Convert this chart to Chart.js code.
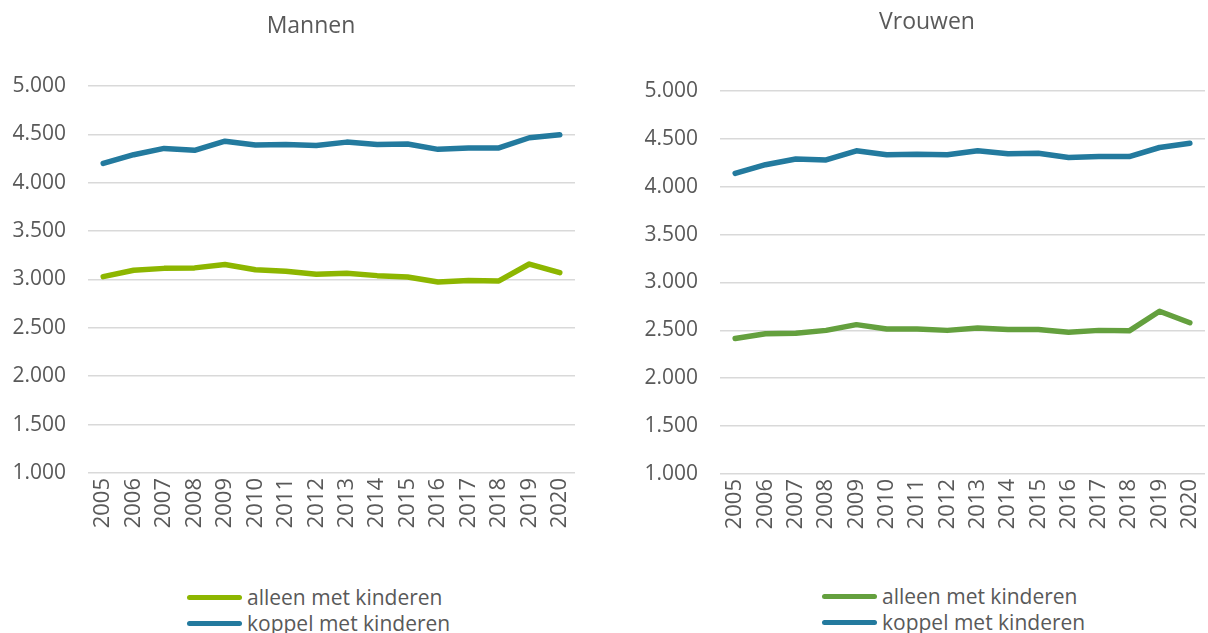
<!DOCTYPE html>
<html>
<head>
<meta charset="utf-8">
<script src="https://cdn.jsdelivr.net/npm/chart.js@4"></script>
<style>
  body { margin: 0; background: #fff; width: 1208px; height: 633px; overflow: hidden; position: relative; font-family: 'Open Sans', sans-serif; }
  canvas { position: absolute; top: 0; }
  #cMannen { left: 0; }
  #cVrouwen { left: 632px; }
  .legend { position: absolute; color: #595959; font-size: 21px; }
  .legend .row { display: flex; align-items: center; height: 26px; white-space: nowrap; }
  .legend .swatch { display: inline-block; width: 55px; height: 5px; border-radius: 3px; margin-right: 5px; }
</style>
</head>
<body>
<canvas id="cMannen" width="622" height="560"></canvas>
<canvas id="cVrouwen" width="590" height="560"></canvas>
<div class="legend" id="lMannen" style="left:187px; top:584px;"></div>
<div class="legend" id="lVrouwen" style="left:822px; top:583px;"></div>
<script>
// jaren
var years = ['2005','2006','2007','2008','2009','2010','2011','2012','2013','2014','2015','2016','2017','2018','2019','2020'];
var seriesNames = ['alleen met kinderen', 'koppel met kinderen'];

// Mannen
var mannenAlleen = [3030,3095,3115,3120,3155,3100,3085,3055,3065,3040,3025,2975,2990,2985,3160,3070];
var mannenKoppel = [4200,4290,4355,4335,4430,4390,4395,4385,4420,4395,4400,4345,4360,4360,4465,4495];

// Vrouwen
var vrouwenAlleen = [2415,2465,2470,2500,2560,2515,2515,2500,2525,2510,2510,2480,2500,2495,2700,2580];
var vrouwenKoppel = [4140,4230,4290,4280,4375,4335,4340,4335,4375,4345,4350,4305,4315,4315,4410,4455];

var yMin = 1000, yMax = 5000, yStep = 500;

var textColor = '#595959';
var gridColor = '#d9d9d9';
var blue = '#237a9e';

function fmt(v) {
  return String(v).replace(/\B(?=(\d{3})+(?!\d))/g, '.');
}

function makeChart(id, title, alleen, koppel, greenColor, lay) {
  var ds = [
    { label: seriesNames[0], data: alleen, borderColor: greenColor, backgroundColor: greenColor },
    { label: seriesNames[1], data: koppel, borderColor: blue, backgroundColor: blue }
  ].map(function (d) {
    d.borderWidth = 5.5;
    d.pointRadius = 0;
    d.tension = 0;
    d.fill = false;
    d.borderCapStyle = 'round';
    d.borderJoinStyle = 'round';
    return d;
  });

  return new Chart(document.getElementById(id), {
    type: 'line',
    data: { labels: years, datasets: ds },
    options: {
      responsive: false,
      animation: false,
      layout: { padding: 0 },
      plugins: {
        legend: { display: false },
        tooltip: { enabled: false },
        title: {
          display: true,
          text: title,
          color: textColor,
          font: { family: 'Open Sans', size: 23, weight: 'normal' },
          padding: { top: lay.titleTop, bottom: lay.titleBottom }
        }
      },
      scales: {
        x: {
          offset: true,
          grid: { display: false, drawTicks: false },
          border: { display: false },
          ticks: {
            color: textColor,
            font: { family: 'Open Sans', size: 22 },
            autoSkip: false,
            maxRotation: 90,
            minRotation: 90,
            padding: 5
          },
          afterFit: function (s) { s.height = lay.xHeight; }
        },
        y: {
          min: yMin,
          max: yMax,
          grid: { color: gridColor, lineWidth: 1.6, drawTicks: false },
          border: { display: false },
          ticks: {
            stepSize: yStep,
            color: textColor,
            font: { family: 'Open Sans', size: 21 },
            padding: 22,
            callback: function (v) { return fmt(v); }
          },
          afterFit: function (s) { s.width = 88; }
        },
        // lege ruimte rechts zodat de titel boven het hele diagram gecentreerd staat
        yR: {
          type: 'linear',
          position: 'right',
          grid: { display: false, drawTicks: false },
          border: { display: false },
          ticks: { display: false },
          afterFit: function (s) { s.width = lay.rightSpace; }
        }
      }
    }
  });
}

function buildLegend(chart, elId) {
  var el = document.getElementById(elId);
  chart.data.datasets.forEach(function (d) {
    var row = document.createElement('div');
    row.className = 'row';
    var sw = document.createElement('span');
    sw.className = 'swatch';
    sw.style.background = d.borderColor;
    var tx = document.createElement('span');
    tx.textContent = d.label;
    row.appendChild(sw);
    row.appendChild(tx);
    el.appendChild(row);
  });
}

var chartM = makeChart('cMannen', 'Mannen', mannenAlleen, mannenKoppel, '#8db600',
  { rightSpace: 47, titleTop: 13, titleBottom: 45.4, xHeight: 87 });
var chartV = makeChart('cVrouwen', 'Vrouwen', vrouwenAlleen, vrouwenKoppel, '#64a03e',
  { rightSpace: 17, titleTop: 8.5, titleBottom: 54.9, xHeight: 86 });

buildLegend(chartM, 'lMannen');
buildLegend(chartV, 'lVrouwen');
</script>
</body>
</html>
